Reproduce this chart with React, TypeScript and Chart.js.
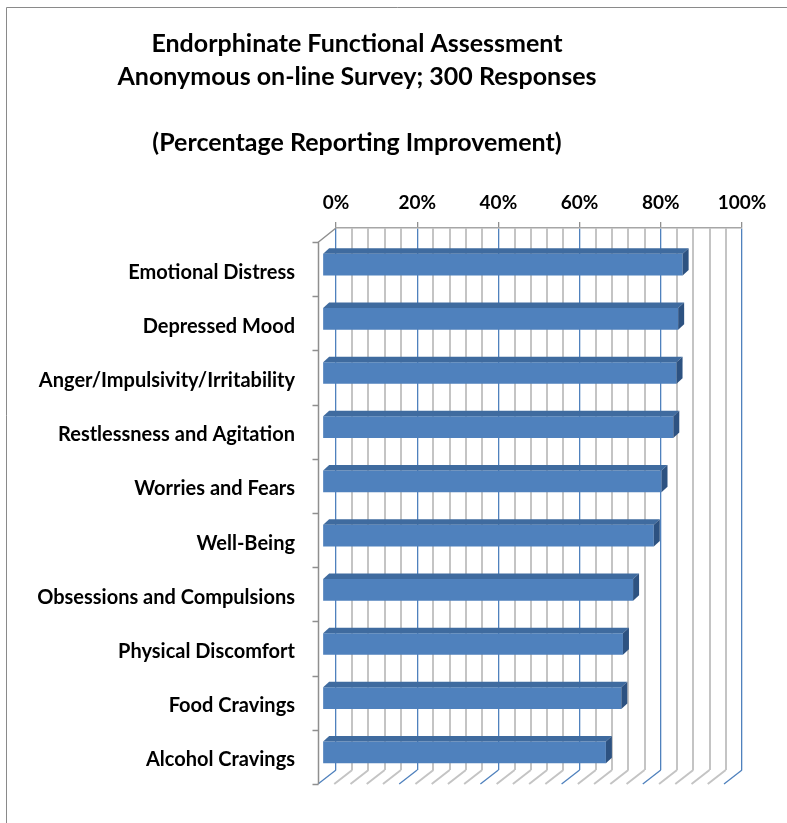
import React, { useEffect, useRef } from "react";
import { Chart, registerables } from "chart.js";

Chart.register(...registerables);

// ---- data ----
const categories = [
  "Emotional Distress",
  "Depressed Mood",
  "Anger/Impulsivity/Irritability",
  "Restlessness and Agitation",
  "Worries and Fears",
  "Well-Being",
  "Obsessions and Compulsions",
  "Physical Discomfort",
  "Food Cravings",
  "Alcohol Cravings",
];
const improvement = [88.7, 87.6, 87.2, 86.4, 83.5, 81.6, 76.5, 74.0, 73.6, 69.8];
const titleLines = [
  "Endorphinate Functional Assessment",
  "Anonymous on-line Survey; 300 Responses",
  "",
  "(Percentage Reporting Improvement)",
];
const axisMin = 0;
const axisMax = 100;
const minorStep = 4;
const majorStep = 20;

// ---- style ----
const FONT = "Lato, 'Open Sans', 'DejaVu Sans', sans-serif";
const BLUE = "#4F81BD";
const TOP_FACE = "#3F6B9F";
const SIDE_FACE = "#2D5281";
const GRID_GRAY = "#C4C4C4";
const WALL_GRAY = "#8F8F8F";
const FLOOR = { dx: -18, dy: 14 };
const BAR_SHIFT = { dx: -13.5, dy: 9.5 };
const BAR_DEPTH = { dx: 6, dy: -5.5 };

const isMajor = (v: number) => Math.abs(v % majorStep) < 1e-6;

const depthPlugin = {
  id: "depth3d",
  beforeDraw(chart: any) {
    const ctx = chart.ctx;
    ctx.save();
    ctx.fillStyle = "#ffffff";
    ctx.fillRect(0, 0, chart.width, chart.height);
    // outer frame
    ctx.strokeStyle = "#8A8A8A";
    ctx.lineWidth = 1;
    ctx.beginPath();
    ctx.moveTo(6.5, chart.height + 5);
    ctx.lineTo(6.5, 7.5);
    ctx.lineTo(chart.width + 5, 7.5);
    ctx.stroke();
    // title
    ctx.fillStyle = "#000";
    ctx.font = `bold 25px ${FONT}`;
    ctx.textAlign = "center";
    ctx.textBaseline = "middle";
    titleLines.forEach((t, i) => {
      if (t) ctx.fillText(t, 357, 44 + i * 33);
    });
    ctx.restore();
  },
  beforeDatasetsDraw(chart: any) {
    const { ctx, chartArea } = chart;
    const x = chart.scales.x;
    ctx.save();
    // floor lines
    for (let v = axisMin; v <= axisMax; v += minorStep) {
      const px = x.getPixelForValue(v);
      ctx.beginPath();
      ctx.strokeStyle = isMajor(v) ? BLUE : GRID_GRAY;
      ctx.lineWidth = isMajor(v) ? 1.3 : 2;
      ctx.moveTo(px, chartArea.bottom);
      ctx.lineTo(px + FLOOR.dx, chartArea.bottom + FLOOR.dy);
      ctx.stroke();
    }
    // left wall
    const fx = Math.round(chartArea.left + FLOOR.dx) + 0.5;
    const ftop = chartArea.top + FLOOR.dy;
    const fbot = chartArea.bottom + FLOOR.dy;
    ctx.strokeStyle = WALL_GRAY;
    ctx.lineWidth = 1.5;
    ctx.beginPath();
    ctx.moveTo(chartArea.left, chartArea.top);
    ctx.lineTo(fx, ftop);
    ctx.lineTo(fx, fbot);
    ctx.stroke();
    const n = categories.length;
    for (let i = 0; i <= n; i++) {
      const yy = Math.round(ftop + (i * (fbot - ftop)) / n) + 0.5;
      ctx.beginPath();
      ctx.moveTo(fx - 6, yy);
      ctx.lineTo(fx, yy);
      ctx.stroke();
    }
    ctx.restore();
    ctx.save();
    ctx.translate(BAR_SHIFT.dx, BAR_SHIFT.dy);
  },
  afterDatasetsDraw(chart: any) {
    const ctx = chart.ctx;
    const meta = chart.getDatasetMeta(0);
    meta.data.forEach((bar: any) => {
      const x0 = bar.base;
      const x1 = bar.x;
      const y0 = bar.y - bar.height / 2;
      const y1 = bar.y + bar.height / 2;
      // top face
      ctx.beginPath();
      ctx.fillStyle = TOP_FACE;
      ctx.moveTo(x0, y0);
      ctx.lineTo(x1, y0);
      ctx.lineTo(x1 + BAR_DEPTH.dx, y0 + BAR_DEPTH.dy);
      ctx.lineTo(x0 + BAR_DEPTH.dx, y0 + BAR_DEPTH.dy);
      ctx.closePath();
      ctx.fill();
      // side face
      ctx.beginPath();
      ctx.fillStyle = SIDE_FACE;
      ctx.moveTo(x1, y0);
      ctx.lineTo(x1 + BAR_DEPTH.dx, y0 + BAR_DEPTH.dy);
      ctx.lineTo(x1 + BAR_DEPTH.dx, y1 + BAR_DEPTH.dy);
      ctx.lineTo(x1, y1);
      ctx.closePath();
      ctx.fill();
    });
    ctx.restore();
  },
};

export default function App() {
  const ref = useRef<HTMLCanvasElement | null>(null);
  useEffect(() => {
    if (!ref.current) return;
    const chart = new Chart(ref.current, {
      type: "bar",
      data: {
        labels: categories,
        datasets: [
          {
            data: improvement,
            backgroundColor: BLUE,
            borderWidth: 0,
            barPercentage: 0.4,
            categoryPercentage: 1,
            clip: false as any,
          },
        ],
      },
      options: {
        indexAxis: "y",
        animation: false,
        responsive: false,
        devicePixelRatio: 1,
        layout: { padding: { top: 180, right: 45, bottom: 45, left: 0 } },
        plugins: {
          legend: { display: false },
          tooltip: { enabled: false },
          title: { display: false },
        },
        scales: {
          x: {
            type: "linear",
            position: "top",
            min: axisMin,
            max: axisMax,
            ticks: {
              stepSize: minorStep,
              autoSkip: false,
              maxRotation: 0,
              padding: 8,
              color: "#000",
              font: { family: FONT, size: 19, weight: "bold" },
              callback: (v: any) => (isMajor(Number(v)) ? `${v}%` : ""),
            },
            grid: {
              color: (c: any) => (isMajor(c.tick.value) ? BLUE : GRID_GRAY),
              lineWidth: (c: any) => (isMajor(c.tick.value) ? 1.3 : 2),
              tickLength: 6,
              tickColor: (c: any) => (isMajor(c.tick.value) ? WALL_GRAY : "rgba(0,0,0,0)"),
            },
            border: { display: true, color: "#A6A6A6", width: 1.5 },
            afterFit: (s: any) => {
              s.height = 48;
            },
          },
          y: {
            type: "category",
            position: "left",
            grid: { display: false, drawTicks: false },
            border: { display: false },
            ticks: {
              autoSkip: false,
              padding: 41,
              labelOffset: 17,
              color: "#000",
              font: { family: FONT, size: 20, weight: "bold" },
            },
            afterFit: (s: any) => {
              s.width = 336;
            },
          },
        },
      },
      plugins: [depthPlugin],
    } as any);
    return () => chart.destroy();
  }, []);
  return (
    <div style={{ position: "absolute", left: 0, top: 0, width: 787, height: 823, background: "#fff" }}>
      <canvas ref={ref} width={787} height={823} style={{ display: "block", width: 787, height: 823 }} />
    </div>
  );
}
